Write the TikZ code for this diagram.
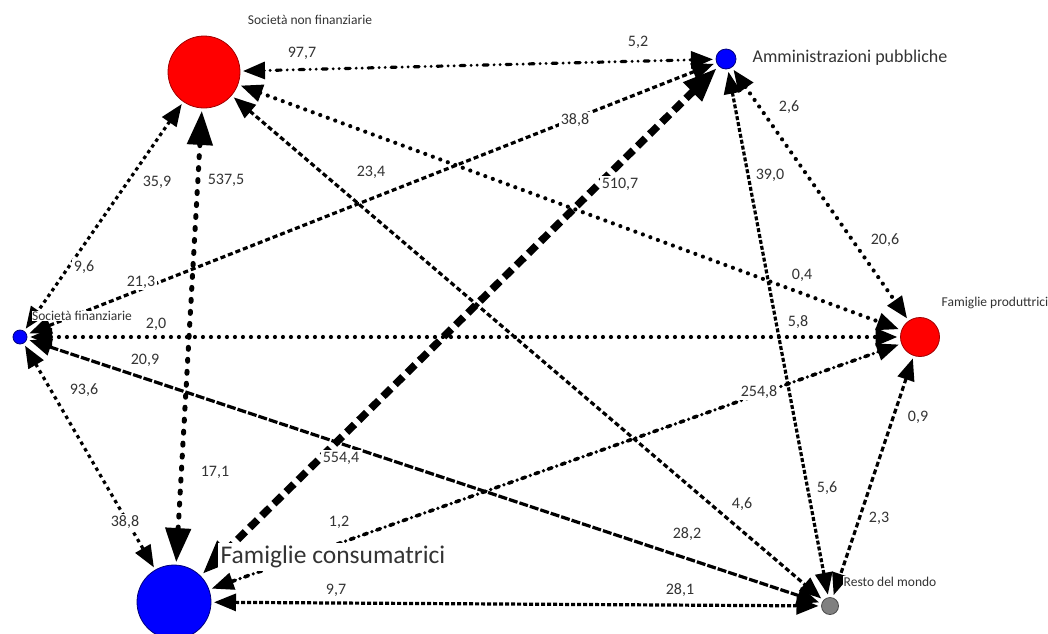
\documentclass[tikz,border=0pt]{standalone}
\usepackage{fontspec}
\setmainfont{Carlito}
\usetikzlibrary{arrows.meta}

\definecolor{sectorred}{HTML}{FF0000}
\definecolor{sectorredline}{HTML}{A00000}
\definecolor{sectorblue}{HTML}{0000FF}
\definecolor{sectorblueline}{HTML}{00007A}
\definecolor{sectorgray}{HTML}{808080}
\definecolor{sectorgrayline}{HTML}{4A4A4A}
\definecolor{labelink}{HTML}{333333}

\begin{document}
\begin{tikzpicture}[x=1pt,y=-1pt,
  sector/.style={circle, line width=0.8pt, inner sep=0pt, outer sep=0pt},
  redsector/.style={sector, fill=sectorred, draw=sectorredline},
  bluesector/.style={sector, fill=sectorblue, draw=sectorblueline},
  graysector/.style={sector, fill=sectorgray, draw=sectorgrayline},
  num/.style={font=\fontsize{16}{18}\selectfont, text=labelink, fill=white, inner sep=1.5pt},
  smallname/.style={font=\fontsize{13.5}{15}\selectfont, text=labelink, fill=white, inner sep=1pt},
  flow/.style={line width=3.2pt,
    {Triangle[length=22pt,width=17pt]}-{Triangle[length=22pt,width=17pt]},
    shorten <=3pt, shorten >=3pt},
  bigflow/.style={
    {Triangle[length=34pt,width=25pt]}-{Triangle[length=34pt,width=25pt]},
    shorten <=3pt, shorten >=3pt},
  dashdotline/.style={line cap=round, dash pattern=on 0pt off 6pt on 0pt off 6pt on 5pt off 6pt},
  squaredots/.style={dash pattern=on 3.5pt off 3.5pt},
  beads/.style={line width=5pt, line cap=round, dash pattern=on 2pt off 10pt},
  rounddots/.style={line width=4.2pt, line cap=round, dash pattern=on 0pt off 8pt},
  shortdash/.style={dash pattern=on 5pt off 3pt},
  finedash/.style={dash pattern=on 4pt off 2pt},
  thickdash/.style={line width=7.5pt, dash pattern=on 11pt off 6pt},
  densedash/.style={dash pattern=on 9pt off 2pt},
  sparsedash/.style={dash pattern=on 3.5pt off 4pt},
  longdashdot/.style={line width=3.6pt, line cap=round, dash pattern=on 4pt off 5pt on 0pt off 5pt}
]
\useasboundingbox (0,0) rectangle (1048,633);

% sectors
\node[redsector, minimum size=72pt] (snf) at (204,72) {};
\node[bluesector, minimum size=20pt] (ap) at (726,59) {};
\node[bluesector, minimum size=14pt] (sf) at (20,337) {};
\node[redsector, minimum size=39pt] (fp) at (920,337) {};
\node[bluesector, minimum size=74pt] (fc) at (174,602) {};
\node[graysector, minimum size=17pt] (rm) at (830,606) {};

% flows between sectors
\draw[flow, dashdotline] (snf) -- (ap);
\draw[flow, squaredots] (snf) -- (sf);
\draw[flow, bigflow, beads] (snf) -- (fc);
\draw[flow, rounddots] (snf) -- (fp);
\draw[flow, shortdash] (snf) -- (rm);
\draw[flow, shortdash] (ap) -- (sf);
\draw[flow, bigflow, thickdash] (ap) -- (fc);
\draw[flow, rounddots] (ap) -- (fp);
\draw[flow, finedash] (ap) -- (rm);
\draw[flow, rounddots] (sf) -- (fp);
\draw[flow, sparsedash] (sf) -- (fc);
\draw[flow, densedash] (sf) -- (rm);
\draw[flow, longdashdot] (fc) -- (fp);
\draw[flow, finedash] (fc) -- (rm);
\draw[flow, shortdash] (fp) -- (rm);

% flow values
\node[num] (v1) at (302,53) {97,7};
\node[num] (v2) at (638,42) {5,2};
\node[num] (v3) at (789,107) {2,6};
\node[num] (v4) at (575,120) {38,8};
\node[num] (v5) at (157,182) {35,9};
\node[num] (v6) at (226,180) {537,5};
\node[num] (v7) at (371,172) {23,4};
\node[num] (v8) at (620,184) {510,7};
\node[num] (v9) at (770,175) {39,0};
\node[num] (v10) at (885,240) {20,6};
\node[num] (v11) at (84,267) {9,6};
\node[num] (v12) at (141,282) {21,3};
\node[num] (v13) at (802,275) {0,4};
\node[num] (v14) at (156,324) {2,0};
\node[num] (v15) at (798,322) {5,8};
\node[num] (v16) at (145,360) {20,9};
\node[num] (v17) at (84,390) {93,6};
\node[num] (v18) at (759,392) {254,8};
\node[num] (v19) at (918,417) {0,9};
\node[num] (v20) at (341,458) {554,4};
\node[num] (v21) at (215,472) {17,1};
\node[num] (v22) at (125,522) {38,8};
\node[num] (v23) at (339,522) {1,2};
\node[num] (v24) at (742,504) {4,6};
\node[num] (v25) at (827,488) {5,6};
\node[num] (v26) at (687,534) {28,2};
\node[num] (v27) at (879,518) {2,3};
\node[num] (v28) at (336,590) {9,7};
\node[num] (v29) at (680,590) {28,1};

% sector names
\node[smallname] (nsnf) at (310,20) {Società non finanziarie};
\node[font=\fontsize{18}{20}\selectfont, text=labelink, inner sep=1pt] (nap) at (850,58) {Amministrazioni pubbliche};
\node[smallname, inner sep=0.5pt] (nsf) at (82,316) {Società finanziarie};
\node[smallname] (nfp) at (995,303) {Famiglie produttrici};
\node[font=\fontsize{25.5}{28}\selectfont, text=labelink, fill=white, inner sep=2.5pt] (nfc) at (333,557) {Famiglie consumatrici};
\node[smallname] (nrm) at (890,582) {Resto del mondo};
\end{tikzpicture}
\end{document}
